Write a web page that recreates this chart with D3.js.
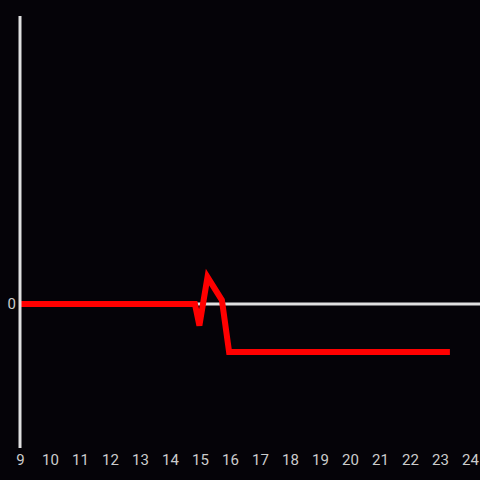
<!DOCTYPE html>
<html><head><meta charset="utf-8">
<script src="https://cdn.jsdelivr.net/npm/d3@7"></script>
<style>html,body{margin:0;padding:0;background:#050308;}svg{display:block;}</style>
</head><body>
<script>
const xValues = [9, 14.83, 14.98, 15.25, 15.73, 15.97, 23.33];
const yValues = [0, 0, -0.45, 0.56, 0.08, -1, -1];
const xTicks = [9,10,11,12,13,14,15,16,17,18,19,20,21,22,23,24];
const yTicks = [0];

const W = 480, H = 480;
const svg = d3.select("body").append("svg").attr("width", W).attr("height", H);
svg.append("rect").attr("width", W).attr("height", H).attr("fill", "#050308");

const x = d3.scaleLinear().domain([9, 24]).range([20, 470]);
const y = d3.scaleLinear().domain([-3, 6]).range([448, 16]);

const data = xValues.map((v, i) => ({x: v, y: yValues[i]}));

// zero line
svg.append("line").attr("x1", x(9)).attr("x2", W).attr("y1", y(0)).attr("y2", y(0))
  .attr("stroke", "#e0e0e0").attr("stroke-width", 3);

svg.append("path").datum(data)
  .attr("d", d3.line().x(d => x(d.x)).y(d => y(d.y)))
  .attr("fill", "none").attr("stroke", "#ff0000").attr("stroke-width", 6)
  .attr("stroke-linejoin", "miter");

// y axis line
svg.append("line").attr("x1", x(9)).attr("x2", x(9)).attr("y1", 16).attr("y2", 448)
  .attr("stroke", "#e0e0e0").attr("stroke-width", 3);

const xAxis = svg.append("g").attr("transform", `translate(0,${448})`)
  .call(d3.axisBottom(x).tickValues(xTicks).tickSize(0).tickPadding(6).tickFormat(d3.format("d")));
xAxis.select(".domain").remove();
xAxis.selectAll("text").attr("fill", "#cccccc").attr("font-family", "Roboto, sans-serif").attr("font-size", 15);

const yAxis = svg.append("g").attr("transform", `translate(${x(9)},0)`)
  .call(d3.axisLeft(y).tickValues(yTicks).tickSize(0).tickPadding(4).tickFormat(d3.format("d")));
yAxis.select(".domain").remove();
yAxis.selectAll("text").attr("fill", "#cccccc").attr("font-family", "Roboto, sans-serif").attr("font-size", 15);
</script>
</body></html>
